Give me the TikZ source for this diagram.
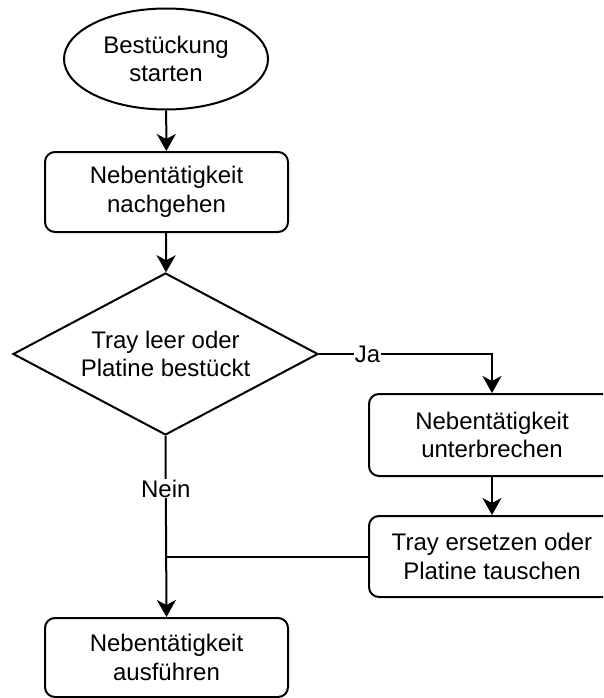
\documentclass[tikz,border=0pt]{standalone}
\usepackage{fontspec}
\setmainfont{Liberation Sans}
\usetikzlibrary{shapes.geometric,arrows.meta,calc}
\begin{document}
\begin{tikzpicture}[x=1pt,y=-1pt,
  every node/.style={font=\fontsize{24}{28.5}\selectfont, text=black},
  proc/.style={draw, line width=2pt, rounded corners=10pt, align=center, inner sep=0pt},
  term/.style={draw, line width=2pt, ellipse, align=center, inner sep=0pt},
  dec/.style={draw, line width=2pt, diamond, aspect=1.88, align=center, inner sep=0pt},
  conn/.style={line width=2pt, -{Stealth[length=17pt,width=19pt,inset=5pt]}},
  plain/.style={line width=2pt},
  lbl/.style={fill=white, inner sep=1pt}]
\useasboundingbox (0,0) rectangle (603,698);
\clip (0,0) rectangle (603,698);
\fill[white] (0,0) rectangle (603,698);
\node[term, minimum width=204pt, minimum height=101pt] (start) at (166,59) {Bestückung\\starten};
\node[proc, minimum width=243pt, minimum height=80pt] (n1) at (166.5,192) {Nebentätigkeit\\nachgehen};
\node[dec, minimum width=305pt, minimum height=162pt] (d) at (165.5,354) {Tray leer oder\\Platine bestückt};
\node[proc, minimum width=246pt, minimum height=82pt] (n2) at (492,435) {Nebentätigkeit\\unterbrechen};
\node[proc, minimum width=246pt, minimum height=81pt] (n3) at (492,556.5) {Tray ersetzen oder\\Platine tauschen};
\node[proc, minimum width=243pt, minimum height=79pt] (n4) at (166.5,657.5) {Nebentätigkeit\\ausführen};
\draw[conn] (start) -- (n1);
\draw[conn] (n1) -- (d);
\draw[conn] (d.east) -| node[lbl, pos=0.14] {Ja} (n2.north);
\draw[conn] (n2) -- (n3);
\draw[conn] (d.south) -- node[lbl, pos=0.29] {Nein} (n4.north);
\coordinate (j) at (n3.west -| n4.north);
\draw[plain] (n3.west) -- (j);
\end{tikzpicture}
\end{document}
